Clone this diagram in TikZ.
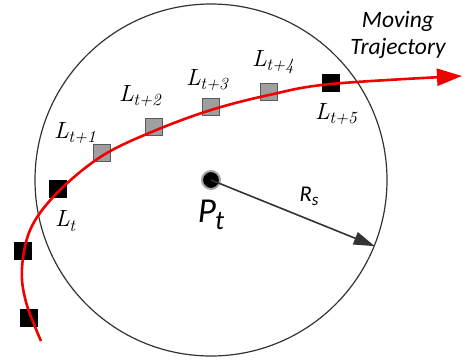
\documentclass[tikz,border=0pt]{standalone}
\usepackage{fontspec}
\newfontfamily\calibri{Carlito}
\newfontfamily\lmtenit{lmroman10-italic.otf}
\usetikzlibrary{arrows.meta}

\newcommand{\locname}[1]{L\kern-0.5pt\raisebox{-4.5pt}{\fontsize{17}{17}\selectfont #1}}

\tikzset{
  locgray/.style={draw=gray!70!black, fill=gray!75, minimum size=17pt, inner sep=0pt, line width=0.8pt},
  locblack/.style={draw=black, fill=black, minimum size=17pt, inner sep=0pt},
  loclabel/.style={font=\lmtenit\fontsize{23.5}{25}\selectfont, inner sep=0pt}
}

\begin{document}
\begin{tikzpicture}[x=1pt, y=-1pt]
    \useasboundingbox (0,0) rectangle (463,362);

    % Sensing range around the current position
    \node[circle, draw=black!80, line width=1.2pt, minimum size=352pt, inner sep=0pt] (rng) at (211,180) {};

    % Trajectory points
    \coordinate (T0) at (41,341);
    \coordinate (T1) at (26,302);
    \coordinate (T2) at (22,268);
    \coordinate (T3) at (31,228);
    \coordinate (T4) at (58,192);
    \coordinate (T5) at (102,156);
    \coordinate (T6) at (154,131);
    \coordinate (T7) at (211,110);
    \coordinate (T8) at (269,95);
    \coordinate (T9) at (331,84);
    \coordinate (T10) at (462,76);

    % Past locations
    \node[locblack] (p2) at (29,318) {};
    \node[locblack] (p1) at (23,251) {};
    \node[locblack] (lt) at (58,189) {};

    % Predicted locations
    \node[locgray] (l1) at (102,153) {};
    \node[locgray] (l2) at (154,127) {};
    \node[locgray] (l3) at (211,107) {};
    \node[locgray] (l4) at (269,92) {};
    \node[locblack] (l5) at (331,83) {};

    % Moving trajectory
    \draw[red!95!black, line width=2.6pt, -{Triangle[length=25pt,width=17pt]}]
        plot[smooth, tension=0.6] coordinates {(T0) (T1) (T2) (T3) (T4) (T5) (T6) (T7) (T8) (T9) (T10)};

    % Current position and radius
    \node[circle, fill=black, draw=gray!70, line width=2pt, minimum size=18pt, inner sep=0pt] (pt) at (211,180) {};
    \draw[black!80, line width=1.6pt, -{Triangle[length=21pt,width=13pt]}] (pt.center) -- (rng.-22.2);

    % Labels
    \node[loclabel] (llt) at (65,221) {\locname{t}};
    \node[loclabel] (ll1) at (75,133) {\locname{t+1}};
    \node[loclabel] (ll2) at (140,96) {\locname{t+2}};
    \node[loclabel] (ll3) at (207,80) {\locname{t+3}};
    \node[loclabel] (ll4) at (273,62) {\locname{t+4}};
    \node[loclabel] (ll5) at (336,114) {\locname{t+5}};
    \node[font=\calibri\itshape\fontsize{35}{36}\selectfont, inner sep=0pt] (lpt) at (211,215)
        {P\kern-1pt\raisebox{-7pt}{\fontsize{27}{27}\selectfont t}};
    \node[font=\calibri\itshape\fontsize{22.5}{24}\selectfont, inner sep=0pt] (lrs) at (309,196)
        {R\raisebox{-4pt}{\fontsize{17}{17}\selectfont s}};
    \node[font=\calibri\itshape\fontsize{23.5}{27}\selectfont, align=center, inner sep=0pt] (mt) at (398,35) {Moving\\Trajectory};
\end{tikzpicture}
\end{document}
